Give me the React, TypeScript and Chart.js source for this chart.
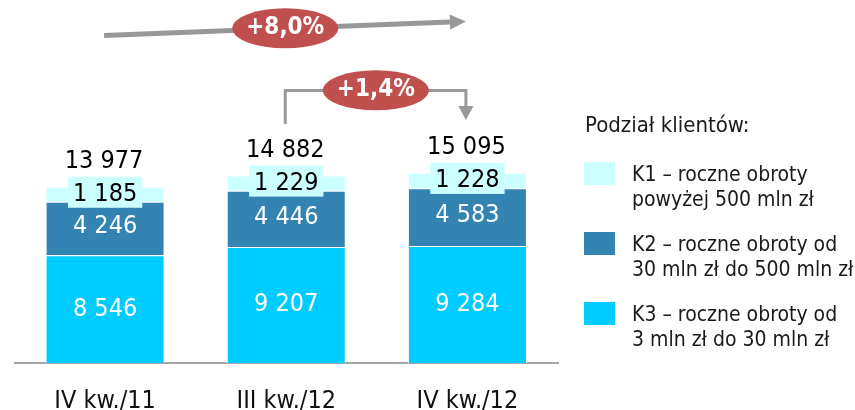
import React, { useEffect, useRef } from "react";
import { Chart, registerables } from "chart.js";

Chart.register(...registerables);

// ---- data ----
const categories = ["IV kw./11", "III kw./12", "IV kw./12"];
const k3Values = [8546, 9207, 9284];
const k2Values = [4246, 4446, 4583];
const k1Values = [1185, 1229, 1228];
const growthLabels = ["+8,0%", "+1,4%"];
const legendTitle = "Podział klientów:";
const k1Legend = ["K1 – roczne obroty", "powyżej 500 mln zł"];
const k2Legend = ["K2 – roczne obroty od", "30 mln zł do 500 mln zł"];
const k3Legend = ["K3 – roczne obroty od", "3 mln zł do 30 mln zł"];

// ---- styles ----
const K1_COLOR = "#CCFFFF";
const K2_COLOR = "#3384B3";
const K3_COLOR = "#00CCFF";
const GRAY = "#989898";
const RED = "#C0504D";
const FONT = '"DejaVu Sans Condensed", "DejaVu Sans", sans-serif';

const fmt = (n: number) => String(n).replace(/\B(?=(\d{3})+(?!\d))/g, " ");

const segLabels = {
  id: "segLabels",
  afterDatasetsDraw(chart: any) {
    const ctx = chart.ctx as CanvasRenderingContext2D;
    ctx.save();
    ctx.font = `25px ${FONT}`;
    ctx.textAlign = "center";
    ctx.textBaseline = "middle";
    chart.data.datasets.forEach((ds: any, di: number) => {
      const meta = chart.getDatasetMeta(di);
      meta.data.forEach((el: any, i: number) => {
        const v = ds.data[i] as number;
        const cy = (el.y + el.base) / 2;
        const txt = fmt(v);
        if (di === 2) {
          const w = ctx.measureText(txt).width + 10;
          ctx.fillStyle = K1_COLOR;
          ctx.fillRect(el.x - w / 2, cy - 17.5, w, 31);
          ctx.fillStyle = "#000";
          ctx.fillText(txt, el.x, cy);
        } else {
          ctx.fillStyle = "#fff";
          ctx.fillText(txt, el.x, cy - (di === 1 ? 1.5 : 0));
        }
      });
    });
    for (let i = 0; i < categories.length; i++) {
      const total = k3Values[i] + k2Values[i] + k1Values[i];
      const x = chart.scales.x.getPixelForValue(i);
      const y = chart.scales.y.getPixelForValue(total) - 25;
      ctx.fillStyle = "#000";
      ctx.fillText(fmt(total), x - 1, y);
    }
    ctx.restore();
  },
};

const growthArrows = {
  id: "growthArrows",
  afterDraw(chart: any) {
    const ctx = chart.ctx as CanvasRenderingContext2D;
    const xs = chart.scales.x;
    const x0 = xs.getPixelForValue(0);
    const x1 = xs.getPixelForValue(1);
    const x2 = xs.getPixelForValue(2);
    ctx.save();
    ctx.strokeStyle = GRAY;
    ctx.fillStyle = GRAY;

    // long arrow
    const sx = x0 - 1, sy = 35.5, tx = x2 - 1.5, ty = 21.5;
    const headLen = 16, headHalf = 7.5;
    const ang = Math.atan2(ty - sy, tx - sx);
    const bx = tx - headLen * Math.cos(ang);
    const by = ty - headLen * Math.sin(ang);
    ctx.lineWidth = 5;
    ctx.beginPath();
    ctx.moveTo(sx, sy);
    ctx.lineTo(bx, by);
    ctx.stroke();
    ctx.beginPath();
    ctx.moveTo(tx, ty);
    ctx.lineTo(bx + headHalf * Math.sin(ang), by - headHalf * Math.cos(ang));
    ctx.lineTo(bx - headHalf * Math.sin(ang), by + headHalf * Math.cos(ang));
    ctx.closePath();
    ctx.fill();

    // bracket arrow
    const lx = x1 - 1, rx = x2 - 1.5, hy = 90.5;
    ctx.lineWidth = 3;
    ctx.beginPath();
    ctx.moveTo(lx, 124);
    ctx.lineTo(lx, hy);
    ctx.lineTo(rx, hy);
    ctx.lineTo(rx, 107);
    ctx.stroke();
    ctx.beginPath();
    ctx.moveTo(rx - 7.5, 106);
    ctx.lineTo(rx + 7.5, 106);
    ctx.lineTo(rx, 120);
    ctx.closePath();
    ctx.fill();

    // ellipses
    const ell = (cx: number, cy: number, txt: string) => {
      ctx.fillStyle = RED;
      ctx.beginPath();
      ctx.ellipse(cx, cy, 53, 20, 0, 0, Math.PI * 2);
      ctx.fill();
      ctx.fillStyle = "#fff";
      ctx.font = `bold 24px ${FONT}`;
      ctx.textAlign = "center";
      ctx.textBaseline = "middle";
      ctx.fillText(txt, cx, cy - 0.5);
    };
    ell(x1 - 1, 28.3, growthLabels[0]);
    ell((x1 + x2) / 2 - 1, 90.3, growthLabels[1]);
    ctx.restore();
  },
};

export default function App() {
  const ref = useRef<HTMLCanvasElement | null>(null);

  useEffect(() => {
    if (!ref.current) return;
    const chart = new Chart(ref.current, {
      type: "bar",
      data: {
        labels: categories,
        datasets: [
          { label: "K3", data: k3Values, backgroundColor: K3_COLOR, borderColor: "#ffffff", borderWidth: 1 },
          { label: "K2", data: k2Values, backgroundColor: K2_COLOR, borderColor: "#ffffff", borderWidth: 1 },
          { label: "K1", data: k1Values, backgroundColor: K1_COLOR, borderColor: "#ffffff", borderWidth: 1 },
        ],
      },
      options: {
        responsive: false,
        animation: false,
        layout: { padding: { top: 10, left: 14.5, right: 297, bottom: 0 } },
        plugins: { legend: { display: false }, tooltip: { enabled: false } },
        datasets: { bar: { categoryPercentage: 1, barPercentage: 0.657 } },
        scales: {
          x: {
            stacked: true,
            grid: { display: false, drawTicks: false },
            border: { display: true, color: "#A6A6A6", width: 2 },
            ticks: {
              color: "#111",
              padding: 26,
              font: { family: FONT, size: 25, lineHeight: 1 },
            },
            afterFit: (scale: any) => {
              scale.height = 47;
            },
          },
          y: { stacked: true, display: false, min: 0, max: 28000 },
        },
      },
      plugins: [segLabels, growthArrows],
    });
    return () => chart.destroy();
  }, []);

  const legendText: React.CSSProperties = {
    position: "absolute",
    left: 632,
    fontFamily: FONT,
    fontSize: 21,
    lineHeight: "25px",
    color: "#1a1a1a",
    whiteSpace: "pre",
  };
  const items = [
    { lines: k1Legend, color: K1_COLOR, top: 162 },
    { lines: k2Legend, color: K2_COLOR, top: 232 },
    { lines: k3Legend, color: K3_COLOR, top: 302 },
  ];

  return (
    <div
      style={{
        position: "fixed",
        left: 0,
        top: 0,
        width: 855,
        height: 410,
        overflow: "hidden",
        background: "#fff",
      }}
    >
      <canvas ref={ref} width={855} height={410} style={{ position: "absolute", left: 0, top: 0, width: 855, height: 410 }} />
      <div style={{ ...legendText, left: 585, top: 112, fontSize: 22 }}>{legendTitle}</div>
      {items.map((it, i) => (
        <React.Fragment key={i}>
          <div style={{ position: "absolute", left: 584, top: it.top, width: 31, height: 23, background: it.color }} />
          <div style={{ ...legendText, top: it.top }}>{it.lines.join("\n")}</div>
        </React.Fragment>
      ))}
    </div>
  );
}
